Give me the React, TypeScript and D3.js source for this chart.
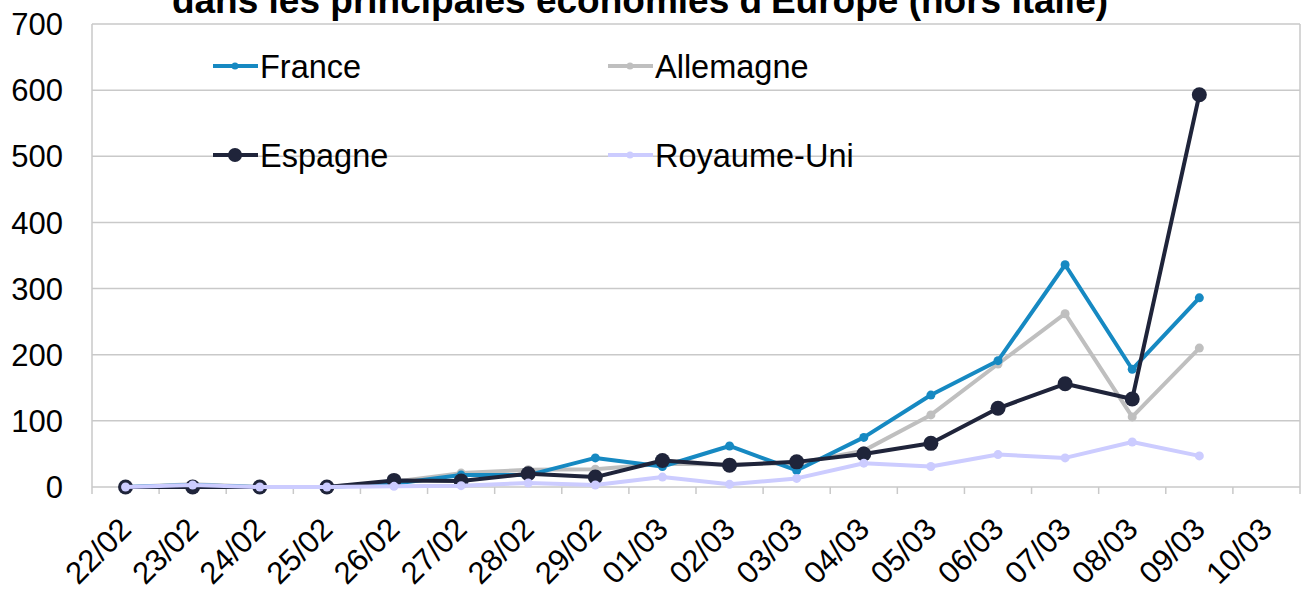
import React, { useEffect, useRef } from "react";
import * as d3 from "d3";

const days = ["22/02","23/02","24/02","25/02","26/02","27/02","28/02","29/02","01/03","02/03","03/03","04/03","05/03","06/03","07/03","08/03","09/03","10/03"];
// values per day (10/03 has no data)
const france = [0, 3, 0, 0, 5, 18, 18, 44, 31, 62, 25, 75, 139, 191, 336, 178, 286];
const allemagne = [0, 4, 0, 0, 8, 21, 26, 27, 35, 34, 36, 55, 109, 186, 262, 106, 210];
const espagne = [0, 0, 0, 0, 10, 9, 20, 15, 40, 33, 38, 50, 66, 119, 156, 133, 593];
const royaumeUni = [0, 3, 0, 0, 1, 2, 6, 3, 15, 4, 13, 36, 31, 49, 44, 68, 47];
const yTicks = [0, 100, 200, 300, 400, 500, 600, 700];

const series = [
  { name: "Allemagne", values: allemagne, color: "#bfbfbf", r: 4.5 },
  { name: "France", values: france, color: "#1689c2", r: 4.5 },
  { name: "Espagne", values: espagne, color: "#1f243a", r: 7.5 },
  { name: "Royaume-Uni", values: royaumeUni, color: "#ccccff", r: 4.5 },
];
const legend = [
  { name: "France", color: "#1689c2", r: 3.5, x: 213, y: 66 },
  { name: "Allemagne", color: "#bfbfbf", r: 3.5, x: 608, y: 66 },
  { name: "Espagne", color: "#1f243a", r: 7, x: 213, y: 155 },
  { name: "Royaume-Uni", color: "#ccccff", r: 3.5, x: 608, y: 155 },
];

const W = 1302, H = 594;
const left = 92, right = 1300, top = 24, bottom = 487;
const FONT = "'Liberation Sans', Arial, sans-serif";

const App = () => {
  const ref = useRef<SVGSVGElement>(null);

  useEffect(() => {
    const svg = d3.select(ref.current);
    svg.selectAll("*").remove();

    const x = d3.scaleBand().domain(days).range([left, right]).padding(0);
    const y = d3.scaleLinear().domain([0, 700]).range([bottom, top]);
    const cx = (i: number) => (x(days[i]) as number) + x.bandwidth() / 2;

    // title (cut off at the top, as in the source)
    svg.append("text")
      .attr("x", 640).attr("y", 13)
      .attr("text-anchor", "middle")
      .style("font", `bold 37px ${FONT}`)
      .text("dans les principales économies d'Europe (hors Italie)");

    // grid
    svg.append("g").selectAll("line").data(yTicks).enter().append("line")
      .attr("x1", left).attr("x2", right)
      .attr("y1", d => y(d)).attr("y2", d => y(d))
      .attr("stroke", "#c9c9c9").attr("stroke-width", 1.5);

    svg.append("line")
      .attr("x1", left).attr("x2", left).attr("y1", top).attr("y2", bottom + 7)
      .attr("stroke", "#c9c9c9").attr("stroke-width", 1.5);
    svg.append("line")
      .attr("x1", right).attr("x2", right).attr("y1", top).attr("y2", bottom + 7)
      .attr("stroke", "#c9c9c9").attr("stroke-width", 1.5);

    // x ticks at band edges
    svg.append("g").selectAll("line").data(days.slice(1)).enter().append("line")
      .attr("x1", d => x(d) as number).attr("x2", d => x(d) as number)
      .attr("y1", bottom).attr("y2", bottom + 7)
      .attr("stroke", "#c9c9c9").attr("stroke-width", 1.5);

    // y labels
    svg.append("g").selectAll("text").data(yTicks).enter().append("text")
      .attr("x", 63).attr("y", d => y(d))
      .attr("dy", "0.36em")
      .attr("text-anchor", "end")
      .style("font", `31px ${FONT}`)
      .text(d => d);

    // x labels
    svg.append("g").selectAll("text").data(days).enter().append("text")
      .attr("transform", (d, i) => `translate(${cx(i) + 7.5},${bottom + 44}) rotate(-45)`)
      .attr("text-anchor", "end")
      .style("font", `31px ${FONT}`)
      .text(d => d);

    const line = d3.line<number>().x((d, i) => cx(i)).y(d => y(d));

    series.forEach(s => {
      const g = svg.append("g");
      g.append("path")
        .attr("d", line(s.values))
        .attr("fill", "none")
        .attr("stroke", s.color)
        .attr("stroke-width", 4)
        .attr("stroke-linejoin", "round");
      g.selectAll("circle").data(s.values).enter().append("circle")
        .attr("cx", (d, i) => cx(i)).attr("cy", d => y(d))
        .attr("r", s.r)
        .attr("fill", s.color);
    });

    // legend
    legend.forEach(l => {
      const g = svg.append("g");
      g.append("line")
        .attr("x1", l.x).attr("x2", l.x + 45).attr("y1", l.y).attr("y2", l.y)
        .attr("stroke", l.color).attr("stroke-width", 4);
      g.append("circle").attr("cx", l.x + 22).attr("cy", l.y).attr("r", l.r).attr("fill", l.color);
      g.append("text")
        .attr("x", l.x + 47).attr("y", l.y).attr("dy", "0.36em")
        .style("font", `32.5px ${FONT}`)
        .text(l.name);
    });
  }, []);

  return (
    <svg ref={ref} width={W} height={H}
      style={{ position: "absolute", left: 0, top: 0, background: "#fff" }} />
  );
};

export default App;
